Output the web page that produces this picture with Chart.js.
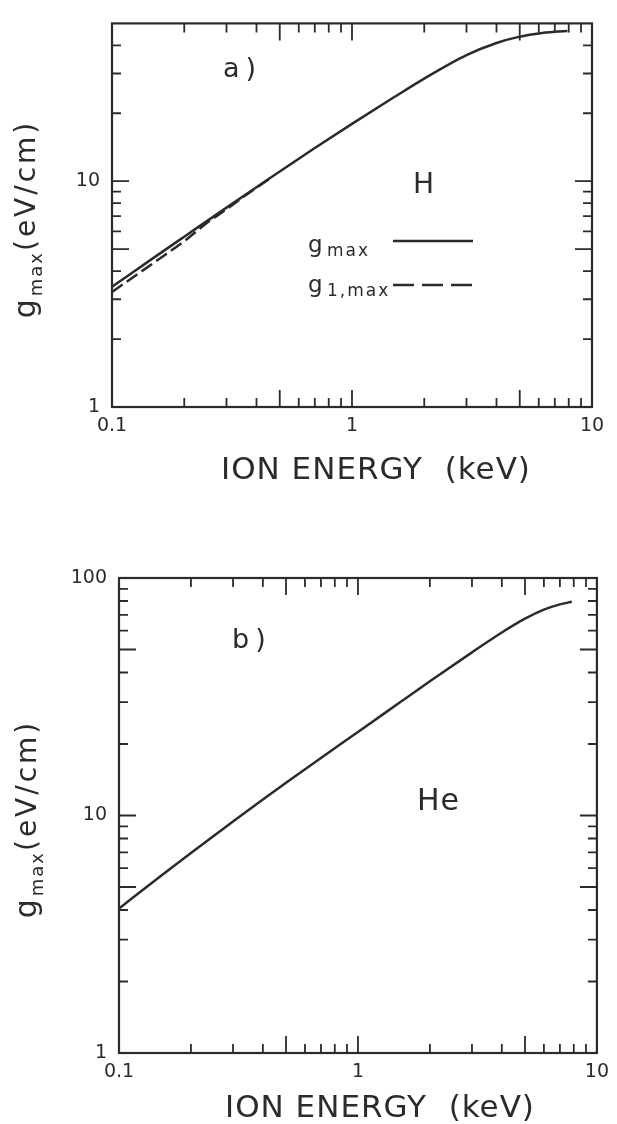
<!DOCTYPE html>
<html>
<head>
<meta charset="utf-8">
<script src="https://cdn.jsdelivr.net/npm/chart.js@4/dist/chart.umd.min.js"></script>
<style>
  html, body { margin: 0; padding: 0; background: #ffffff; }
  #wrap { position: relative; width: 617px; height: 1124px; overflow: hidden; background: #fff; }
  #c1 { position: absolute; left: 0; top: 0; }
  #c2 { position: absolute; left: 0; top: 520px; }
</style>
</head>
<body>
<div id="wrap">
  <canvas id="c1" width="617" height="500"></canvas>
  <canvas id="c2" width="617" height="604"></canvas>
</div>
<script>
// ---------- data ----------
const energyH  = [0.1, 0.15, 0.2, 0.3, 0.4, 0.5, 0.7, 1.0, 1.5, 2.0, 3.0, 4.0, 5.0, 6.0, 7.0, 7.9];
const gmaxH    = [3.41, 4.60, 5.68, 7.64, 9.41, 11.05, 14.03, 17.94, 23.59, 28.48, 36.18, 40.95, 43.69, 45.15, 45.92, 46.3];
const energyH1 = [0.1, 0.15, 0.2, 0.25, 0.3, 0.35, 0.45];
const g1maxH   = [3.23, 4.37, 5.43, 6.56, 7.52, 8.47, 10.2];
const energyHe = [0.1, 0.15, 0.2, 0.3, 0.4, 0.5, 0.7, 1.0, 1.5, 2.0, 3.0, 4.0, 5.0, 6.0, 7.0, 7.85];
const gmaxHe   = [4.06, 5.57, 6.95, 9.44, 11.68, 13.73, 17.47, 22.47, 29.97, 36.76, 48.63, 58.97, 67.42, 73.59, 77.43, 79.4];

const xTickLabels  = ['0.1', '1', '10'];
const yTickLabelsA = ['1', '10'];
const yTickLabelsB = ['1', '10', '100'];
const xRange  = [0.1, 10];
const yRangeA = [1, 50];
const yRangeB = [1, 100];

const xTitle = 'ION ENERGY  (keV)';
const yTitleParts = ['g', 'max', '(eV/cm)'];
const legendNames = [['g', 'max'], ['g', '1,max']];
const panelLabels = ['a)', 'b)'];
const speciesLabels = ['H', 'He'];

// ---------- helpers ----------
const INK = '#2b2b2b';
const FAM = '"DejaVu Sans", "Liberation Sans", sans-serif';

function fmt(v) { return String(Number(Number(v).toPrecision(6))); }
function logTicks(min, max) {
  const out = [];
  for (let k = Math.floor(Math.log10(min)); k <= Math.ceil(Math.log10(max)); k++) {
    for (let m = 1; m <= 9; m++) {
      const v = Number((m * Math.pow(10, k)).toPrecision(6));
      if (v >= min - 1e-9 && v <= max + 1e-9) out.push(v);
    }
  }
  return out;
}
function isLong(v) {
  const e = Math.floor(Math.log10(v) + 1e-9);
  const m = Math.round(v / Math.pow(10, e));
  return m === 1 || m === 5;
}
function pts(xs, ys) { return xs.map((x, i) => ({ x: x, y: ys[i] })); }

function textSpaced(ctx, str, x, y, size, spacing) {
  ctx.font = size + 'px ' + FAM;
  ctx.letterSpacing = spacing + 'px';
  ctx.fillText(str, x, y);
  return ctx.measureText(str).width;
}

function makeDecor(cfg) {
  return {
    id: 'decor' + cfg.idx,
    afterDraw(chart) {
      const ctx = chart.ctx, a = chart.chartArea, xs = chart.scales.x, ys = chart.scales.y;
      ctx.save();
      ctx.strokeStyle = INK; ctx.fillStyle = INK;
      // inward ticks on all four sides
      ctx.lineWidth = 1.8;
      ctx.beginPath();
      xs.ticks.forEach(t => {
        const px = xs.getPixelForValue(t.value);
        if (px <= a.left + 1 || px >= a.right - 1) return;
        const L = isLong(t.value) ? 17 : 9;
        ctx.moveTo(px, a.bottom); ctx.lineTo(px, a.bottom - L);
        ctx.moveTo(px, a.top); ctx.lineTo(px, a.top + L);
      });
      ys.ticks.forEach(t => {
        const py = ys.getPixelForValue(t.value);
        if (py <= a.top + 1 || py >= a.bottom - 1) return;
        const L = isLong(t.value) ? 17 : 9;
        ctx.moveTo(a.left, py); ctx.lineTo(a.left + L, py);
        ctx.moveTo(a.right, py); ctx.lineTo(a.right - L, py);
      });
      ctx.stroke();
      // frame
      ctx.lineWidth = 2.2;
      ctx.strokeRect(a.left, a.top, a.right - a.left, a.bottom - a.top);

      ctx.textBaseline = 'alphabetic';
      ctx.textAlign = 'left';
      // panel label and species
      textSpaced(ctx, cfg.panel, cfg.panelPos[0], cfg.panelPos[1], 27, 6);
      textSpaced(ctx, cfg.species, cfg.speciesPos[0], cfg.speciesPos[1], cfg.speciesSize, 1);

      // x title
      ctx.font = '31px ' + FAM;
      ctx.letterSpacing = '1px';
      const tw = ctx.measureText(xTitle).width;
      ctx.fillText(xTitle, cfg.xTitlePos[0] - tw / 2, cfg.xTitlePos[1]);

      // y title (rotated, with subscript)
      ctx.save();
      ctx.translate(cfg.yTitlePos[0], cfg.yTitlePos[1]);
      ctx.rotate(-Math.PI / 2);
      const parts = [
        { t: yTitleParts[0], s: 30, dy: 0, sp: 3 },
        { t: yTitleParts[1], s: 18, dy: 7, sp: 2 },
        { t: yTitleParts[2], s: 28, dy: 0, sp: 3 }
      ];
      let total = 0;
      parts.forEach(p => { ctx.font = p.s + 'px ' + FAM; ctx.letterSpacing = p.sp + 'px'; p.w = ctx.measureText(p.t).width; total += p.w; });
      let cx = -total / 2;
      parts.forEach(p => { ctx.font = p.s + 'px ' + FAM; ctx.letterSpacing = p.sp + 'px'; ctx.fillText(p.t, cx, p.dy); cx += p.w; });
      ctx.restore();

      // legend (top panel only)
      if (cfg.legend) {
        const rows = [
          { y: 252, ly: 241, dash: [] },
          { y: 292, ly: 285, dash: [21, 8] }
        ];
        rows.forEach((r, i) => {
          textSpaced(ctx, legendNames[i][0], 308, r.y, 23, 0);
          textSpaced(ctx, legendNames[i][1], 327, r.y + 4, 17, 2);
          ctx.beginPath();
          ctx.setLineDash(r.dash);
          ctx.lineWidth = 2.4;
          ctx.moveTo(393, r.ly); ctx.lineTo(473, r.ly);
          ctx.stroke();
          ctx.setLineDash([]);
        });
      }
      ctx.restore();
    }
  };
}

function makeChart(canvasId, datasets, yRange, yLabels, dims, cfg) {
  return new Chart(document.getElementById(canvasId), {
    type: 'line',
    data: { datasets: datasets },
    options: {
      responsive: false,
      animation: false,
      devicePixelRatio: 1,
      layout: { padding: { left: 0, top: dims.top, right: dims.right, bottom: 0 } },
      plugins: { legend: { display: false }, tooltip: { enabled: false } },
      elements: { point: { radius: 0 }, line: { borderWidth: 2.5, borderColor: INK, cubicInterpolationMode: 'monotone' } },
      scales: {
        x: {
          type: 'logarithmic', min: xRange[0], max: xRange[1],
          grid: { display: false, drawTicks: false },
          border: { display: false },
          afterBuildTicks: s => { s.ticks = logTicks(xRange[0], xRange[1]).map(v => ({ value: v })); },
          afterFit: s => { s.height = dims.xh; },
          ticks: {
            autoSkip: false, maxRotation: 0, minRotation: 0, padding: dims.xpad,
            color: INK, font: { family: FAM, size: 19 },
            callback: v => (xTickLabels.includes(fmt(v)) ? fmt(v) : '')
          }
        },
        y: {
          type: 'logarithmic', min: yRange[0], max: yRange[1],
          grid: { display: false, drawTicks: false },
          border: { display: false },
          afterBuildTicks: s => { s.ticks = logTicks(yRange[0], yRange[1]).map(v => ({ value: v })); },
          afterFit: s => { s.width = dims.yw; },
          ticks: {
            autoSkip: false, padding: 12,
            color: INK, font: { family: FAM, size: 19 },
            callback: v => (yLabels.includes(fmt(v)) ? fmt(v) : '')
          }
        }
      }
    },
    plugins: [makeDecor(cfg)]
  });
}

// ---------- panel a) H ----------
makeChart('c1', [
  { label: 'g max', data: pts(energyH, gmaxH), borderColor: INK, borderWidth: 2.5, fill: false },
  { label: 'g 1,max', data: pts(energyH1, g1maxH), borderColor: INK, borderWidth: 2.5, borderDash: [13, 5], fill: false }
], yRangeA, yTickLabelsA,
  { top: 7, right: 25, xh: 93, yw: 112, xpad: 8 },
  { idx: 1, panel: panelLabels[0], panelPos: [223, 77], species: speciesLabels[0], speciesPos: [413, 193], speciesSize: 28,
    xTitlePos: [376, 479], yTitlePos: [35, 219], legend: true });

// ---------- panel b) He ----------
makeChart('c2', [
  { label: 'g max', data: pts(energyHe, gmaxHe), borderColor: INK, borderWidth: 2.5, fill: false }
], yRangeB, yTickLabelsB,
  { top: 58, right: 15, xh: 71, yw: 119, xpad: 8 },
  { idx: 2, panel: panelLabels[1], panelPos: [232, 128], species: speciesLabels[1], speciesPos: [417, 290], speciesSize: 30,
    xTitlePos: [380, 597], yTitlePos: [36, 299], legend: false });
</script>
</body>
</html>
